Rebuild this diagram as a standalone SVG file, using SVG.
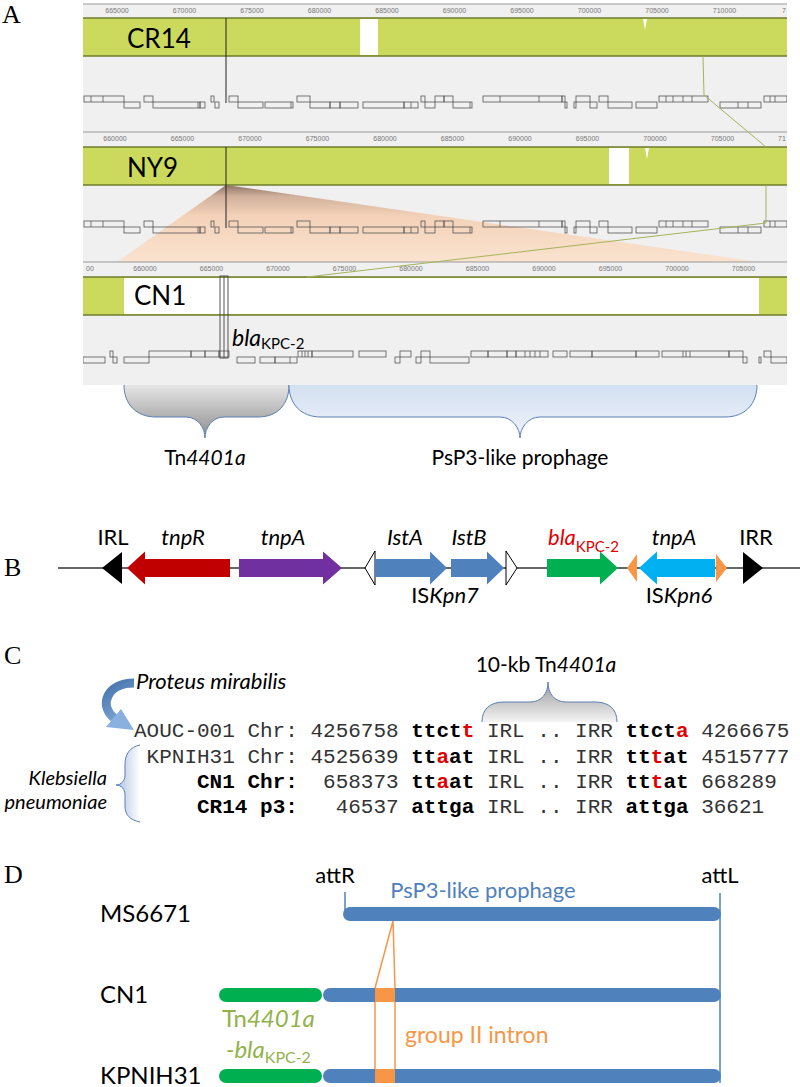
<svg xmlns="http://www.w3.org/2000/svg" xmlns:xlink="http://www.w3.org/1999/xlink" width="800" height="1087" viewBox="0 0 800 1087">
<style>
.sans{font-family:Lato,"Open Sans","Liberation Sans",sans-serif}
.panel{font-family:"Liberation Serif",serif;font-size:26px;fill:#000}
.mono{font-family:"Liberation Mono",monospace;font-size:21px;fill:#333}
.b{font-weight:bold;fill:#000}
.r{fill:#e00000}
.ruler{font-family:"Liberation Sans",sans-serif;font-size:7px;fill:#777;text-anchor:middle}
.gene rect{fill:none;stroke:#555;stroke-width:0.8}
.gene line{stroke:#555;stroke-width:0.8}
.band{fill:#cbda5c}
.bandline{stroke:#6f7d2c;stroke-width:1.5}
.olive{fill:none;stroke:#a4b45a;stroke-width:1}
.ax{stroke:#333;stroke-width:1.3}
</style>
<defs>
<clipPath id="clipA"><rect x="83" y="0" width="704" height="390"/></clipPath>
<linearGradient id="fanG" x1="0" y1="0" x2="0" y2="1">
<stop offset="0" stop-color="#86675a"/>
<stop offset="0.15" stop-color="#cfac96"/>
<stop offset="0.4" stop-color="#f4cfb3"/>
<stop offset="1" stop-color="#fbe2cd"/>
</linearGradient>
<linearGradient id="grayBrace" x1="0" y1="0" x2="0" y2="1">
<stop offset="0" stop-color="#e6e6e6"/>
<stop offset="1" stop-color="#8c8c8c"/>
</linearGradient>
<linearGradient id="blueBrace" x1="0" y1="0" x2="0" y2="1">
<stop offset="0" stop-color="#d3e0f1"/>
<stop offset="1" stop-color="#eef3fa"/>
</linearGradient>
<linearGradient id="grayBraceC" x1="0" y1="0" x2="0" y2="1">
<stop offset="0" stop-color="#9a9a9a"/>
<stop offset="1" stop-color="#f4f4f4"/>
</linearGradient>
<linearGradient id="blueBraceK" x1="0" y1="0" x2="1" y2="0">
<stop offset="0" stop-color="#a9c2e2"/>
<stop offset="1" stop-color="#ffffff"/>
</linearGradient>
<linearGradient id="curveG" gradientUnits="userSpaceOnUse" x1="100" y1="680" x2="130" y2="730">
<stop offset="0" stop-color="#3d6da5"/>
<stop offset="1" stop-color="#8fb4e3"/>
</linearGradient>
<g id="genesA" class="gene">
<rect x="84" y="96" width="40" height="6"/><line x1="91" y1="96" x2="91" y2="102"/><line x1="103" y1="96" x2="103" y2="102"/>
<rect x="124" y="102" width="16" height="6"/>
<rect x="144" y="96" width="9" height="6"/>
<rect x="153" y="102" width="47" height="6"/><line x1="198" y1="102" x2="198" y2="108"/>
<rect x="200" y="102" width="5" height="6"/>
<rect x="211" y="96" width="3" height="6"/>
<rect x="215" y="102" width="4" height="6"/>
<rect x="229" y="96" width="9" height="6"/>
<rect x="238" y="102" width="25" height="6"/>
<rect x="265" y="102" width="28" height="6"/><line x1="291" y1="102" x2="291" y2="108"/>
<rect x="297" y="96" width="13" height="6"/>
<rect x="310" y="102" width="20" height="6"/>
<rect x="330" y="102" width="10" height="6"/>
<rect x="340" y="102" width="18" height="6"/>
<rect x="363" y="102" width="41" height="6"/>
<rect x="404" y="102" width="14" height="6"/><line x1="411" y1="102" x2="411" y2="108"/>
<rect x="421" y="96" width="4" height="6"/>
<rect x="425" y="102" width="10" height="6"/>
<rect x="435" y="96" width="9" height="6"/>
<rect x="444" y="96" width="9" height="6"/>
<rect x="453" y="102" width="19" height="6"/><line x1="470" y1="102" x2="470" y2="108"/>
<rect x="483" y="96" width="79" height="6"/><line x1="500" y1="96" x2="500" y2="102"/><line x1="539" y1="96" x2="539" y2="102"/>
<rect x="562" y="96" width="3" height="6"/>
<rect x="565" y="102" width="2" height="6"/>
<rect x="574" y="102" width="2" height="6"/>
<rect x="576" y="96" width="14" height="6"/>
<rect x="590" y="102" width="7" height="6"/>
<rect x="599" y="96" width="9" height="6"/>
<rect x="608" y="102" width="24" height="6"/>
<rect x="636" y="102" width="21" height="6"/>
<rect x="659" y="96" width="49" height="6"/><line x1="666" y1="96" x2="666" y2="102"/><line x1="673" y1="96" x2="673" y2="102"/><line x1="683" y1="96" x2="683" y2="102"/><line x1="692" y1="96" x2="692" y2="102"/>
<rect x="720" y="102" width="41" height="6"/><line x1="738" y1="102" x2="738" y2="108"/><line x1="748" y1="102" x2="748" y2="108"/>
<rect x="764" y="96" width="23" height="6"/><line x1="770" y1="96" x2="770" y2="102"/><line x1="775" y1="96" x2="775" y2="102"/>
</g>
</defs>

<g id="panelA">
<text class="panel" x="2" y="23">A</text>
<g clip-path="url(#clipA)">
<rect x="83" y="4" width="704" height="381" fill="#f0f0f0"/>
<g id="track-CR14">
<line x1="83" y1="4" x2="787" y2="4" stroke="#999" stroke-width="1"/>
<g class="ruler">
<text x="117" y="13">665000</text><text x="184.5" y="13">670000</text><text x="252" y="13">675000</text><text x="319.5" y="13">680000</text><text x="387" y="13">685000</text><text x="454.5" y="13">690000</text><text x="522" y="13">695000</text><text x="589.5" y="13">700000</text><text x="657" y="13">705000</text><text x="724.5" y="13">710000</text><text x="784" y="13">7</text>
</g>
<rect class="band" x="83" y="18" width="704" height="38"/>
<line class="bandline" x1="83" y1="18" x2="787" y2="18"/>
<line class="bandline" x1="83" y1="56" x2="787" y2="56"/>
<rect x="360" y="19" width="18" height="36" fill="#fff"/>
<polygon points="643,19 647,19 645,30" fill="#fff"/>
<text class="sans" x="127" y="48" font-size="26">CR14</text>
<line x1="226" y1="18" x2="226" y2="103" stroke="#222" stroke-width="1"/>
<use xlink:href="#genesA"/>
</g>
<g id="track-NY9">
<line x1="83" y1="132" x2="787" y2="132" stroke="#999" stroke-width="1"/>
<g class="ruler">
<text x="115" y="141">660000</text><text x="182.5" y="141">665000</text><text x="250" y="141">670000</text><text x="317.5" y="141">675000</text><text x="385" y="141">680000</text><text x="452.5" y="141">685000</text><text x="520" y="141">690000</text><text x="587.5" y="141">695000</text><text x="655" y="141">700000</text><text x="722.5" y="141">705000</text><text x="782" y="141">71</text>
</g>
<rect class="band" x="83" y="147" width="704" height="38"/>
<line class="bandline" x1="83" y1="147" x2="787" y2="147"/>
<line class="bandline" x1="83" y1="185" x2="787" y2="185"/>
<rect x="609" y="148" width="20" height="36" fill="#fff"/>
<polygon points="645,148 649,148 647,159" fill="#fff"/>
<text class="sans" x="127" y="177" font-size="26">NY9</text>
</g>
<polygon id="fan" points="226,185 759,262 117,262" fill="url(#fanG)" opacity="0.92"/>
<line x1="226" y1="147" x2="226" y2="228" stroke="#222" stroke-width="1"/>
<use xlink:href="#genesA" y="125"/>
<g id="track-CN1">
<line x1="83" y1="262" x2="787" y2="262" stroke="#999" stroke-width="1"/>
<g class="ruler">
<text x="90" y="271">00</text><text x="145" y="271">660000</text><text x="211.5" y="271">665000</text><text x="278" y="271">670000</text><text x="344.5" y="271">675000</text><text x="411" y="271">680000</text><text x="477.5" y="271">685000</text><text x="544" y="271">690000</text><text x="610.5" y="271">695000</text><text x="677" y="271">700000</text><text x="743.5" y="271">705000</text>
</g>
<rect class="band" x="83" y="277" width="704" height="38"/>
<rect x="124" y="278" width="635" height="36" fill="#fff"/>
<line class="bandline" x1="83" y1="277" x2="787" y2="277"/>
<line class="bandline" x1="83" y1="315" x2="787" y2="315"/>
<text class="sans" x="134" y="305" font-size="26">CN1</text>
<g class="gene">
<rect x="83" y="357" width="22" height="6"/>
<rect x="110" y="351" width="3" height="6"/><rect x="113" y="357" width="4" height="6"/>
<rect x="124" y="357" width="25" height="6"/>
<rect x="149" y="351" width="42" height="6"/>
<rect x="191" y="351" width="14" height="6"/>
<rect x="205" y="351" width="14" height="6"/>
<rect x="219" y="351" width="10" height="6"/>
<rect x="237" y="357" width="18" height="6"/>
<rect x="260" y="357" width="15" height="6"/>
<rect x="275" y="357" width="22" height="6"/><line x1="290" y1="357" x2="290" y2="363"/>
<rect x="298" y="351" width="14" height="6"/><line x1="302" y1="351" x2="302" y2="357"/><line x1="305" y1="351" x2="305" y2="357"/><line x1="308" y1="351" x2="308" y2="357"/>
<rect x="312" y="351" width="41" height="6"/>
<rect x="359" y="351" width="27" height="6"/>
<rect x="395" y="357" width="5" height="6"/>
<rect x="400" y="351" width="11" height="6"/>
<rect x="416" y="357" width="5" height="6"/>
<rect x="421" y="351" width="9" height="6"/>
<rect x="430" y="357" width="39" height="6"/>
<rect x="471" y="351" width="17" height="6"/>
<rect x="488" y="351" width="19" height="6"/>
<rect x="507" y="351" width="9" height="6"/>
<rect x="516" y="351" width="32" height="6"/><line x1="525" y1="351" x2="525" y2="357"/><line x1="530" y1="351" x2="530" y2="357"/><line x1="535" y1="351" x2="535" y2="357"/><line x1="540" y1="351" x2="540" y2="357"/>
<rect x="553" y="351" width="14" height="6"/>
<rect x="570" y="351" width="22" height="6"/>
<rect x="592" y="351" width="44" height="6"/>
<rect x="636" y="351" width="23" height="6"/>
<rect x="662" y="351" width="67" height="6"/><line x1="683" y1="351" x2="683" y2="357"/><line x1="686" y1="351" x2="686" y2="357"/><line x1="690" y1="351" x2="690" y2="357"/>
<rect x="729" y="351" width="14" height="6"/>
<rect x="743" y="357" width="4" height="6"/>
<rect x="759" y="357" width="2" height="6"/>
<rect x="764" y="351" width="7" height="6"/>
<rect x="771" y="357" width="16" height="6"/>
</g>
<g id="blaKPC2-marker">
<rect x="220" y="276" width="8" height="82" fill="none" stroke="#444" stroke-width="0.9"/>
<line x1="224" y1="276" x2="224" y2="358" stroke="#444" stroke-width="0.9"/>
</g>
<text class="sans" x="232" y="346" font-size="23" font-style="italic">bla<tspan font-size="15" font-style="normal" dy="3">KPC-2</tspan></text>
</g>
<g id="connectorsA">
<polyline class="olive" points="703,56 704,95 766,147"/>
<polyline class="olive" points="766,185 766,223 307,277"/>
</g>
</g>
<g id="brace-Tn4401a">
<path d="M124,385 C124,404 136,417 156,417 L186,417 C198,417 205,428 205,438 C205,428 212,417 224,417 L258,417 C278,417 289,404 289,385" fill="url(#grayBrace)" stroke="#5b7fb5" stroke-width="1"/>
<text class="sans" x="205" y="465" font-size="21" text-anchor="middle">Tn<tspan font-style="italic">4401a</tspan></text>
</g>
<g id="brace-prophage">
<path d="M289,385 C289,404 301,417 321,417 L500,417 C512,417 520,428 520,438 C520,428 528,417 540,417 L725,417 C745,417 757,404 757,385" fill="url(#blueBrace)" stroke="#5b7fb5" stroke-width="1"/>
<text class="sans" x="520" y="465" font-size="21" text-anchor="middle">PsP3-like prophage</text>
</g>
</g>

<g id="panelB">
<text class="panel" x="4" y="576">B</text>
<g id="connectorsB"><line class="ax" x1="58" y1="568" x2="800" y2="568"/></g>
<g id="IRL"><polygon points="102,568 122,552 122,584" fill="#000"/><text class="sans" x="113" y="545" font-size="22" text-anchor="middle">IRL</text></g>
<g id="tnpR"><polygon points="127,568 145,551.5 145,559 230,559 230,577 145,577 145,584.5" fill="#c00000"/><text class="sans" x="183" y="545" font-size="22" font-style="italic" text-anchor="middle">tnpR</text></g>
<g id="tnpA1"><polygon points="239,559 323,559 323,551.5 342,568 323,584.5 323,577 239,577" fill="#7030a0"/><text class="sans" x="283" y="545" font-size="22" font-style="italic" text-anchor="middle">tnpA</text></g>
<g id="IRL7"><polygon points="365,568 375,551 375,585" fill="#fff" stroke="#000" stroke-width="1"/></g>
<g id="IstA"><polygon points="375,559 430,559 430,551.5 447,568 430,584.5 430,577 375,577" fill="#4f81bd"/><text class="sans" x="405" y="545" font-size="22" font-style="italic" text-anchor="middle">IstA</text></g>
<g id="IstB"><polygon points="451,559 487,559 487,551.5 504,568 487,584.5 487,577 451,577" fill="#4f81bd"/><text class="sans" x="469" y="545" font-size="22" font-style="italic" text-anchor="middle">IstB</text></g>
<g id="IRR7"><polygon points="517,568 506,551 506,585" fill="#fff" stroke="#000" stroke-width="1"/></g>
<text class="sans" x="445" y="603" font-size="22" text-anchor="middle">IS<tspan font-style="italic">Kpn7</tspan></text>
<g id="blaKPC2"><polygon points="547,559 600,559 600,551.5 618,568 600,584.5 600,577 547,577" fill="#00b050"/><text class="sans" x="548" y="545" font-size="22" font-style="italic" fill="#e00000">bla<tspan font-size="15" font-style="normal" dy="7">KPC-2</tspan></text></g>
<g id="IRL6"><polygon points="627,568 637,554 637,582" fill="#f79646"/></g>
<g id="tnpA2"><polygon points="639,568 657,551.5 657,559 715,559 715,577 657,577 657,584.5" fill="#00b0f0"/><text class="sans" x="674" y="545" font-size="22" font-style="italic" text-anchor="middle">tnpA</text></g>
<g id="IRR6"><polygon points="727,568 716,554 716,582" fill="#f79646"/></g>
<text class="sans" x="679" y="603" font-size="22" text-anchor="middle">IS<tspan font-style="italic">Kpn6</tspan></text>
<g id="IRR"><polygon points="763,568 743,552 743,584" fill="#000"/><text class="sans" x="756" y="545" font-size="22" text-anchor="middle">IRR</text></g>
</g>

<g id="panelC">
<text class="panel" x="4" y="664">C</text>
<g id="tn-label">
<text class="sans" x="546" y="672" font-size="21" text-anchor="middle">10-kb Tn<tspan font-style="italic">4401a</tspan></text>
<path d="M482,722 C482,709 490,702 504,702 L530,702 C542,702 548,693 548,682 C548,693 554,702 566,702 L595,702 C609,702 617,709 617,722" fill="url(#grayBraceC)" stroke="#5b7fb5" stroke-width="1"/>
</g>
<g id="proteus">
<text class="sans" x="136" y="689" font-size="22" font-style="italic">Proteus mirabilis</text>
<path d="M134,683 C108,683 98,704 114,718" fill="none" stroke="url(#curveG)" stroke-width="9"/>
<polygon points="106,727 121,709 134,730" fill="#8ab0df"/>
</g>
<g id="klebsiella">
<text class="sans" x="107" y="785" font-size="20" font-style="italic" text-anchor="end">Klebsiella</text>
<text class="sans" x="107" y="809" font-size="20" font-style="italic" text-anchor="end">pneumoniae</text>
<path d="M140,745 C130,747 125,754 125,764 L125,775 C125,781 121,785 116,785 C121,785 125,789 125,795 L125,806 C125,815 130,820 140,822" fill="url(#blueBraceK)" stroke="#5b7fb5" stroke-width="1"/>
</g>
<g id="rows" class="mono">
<text x="134" y="737" xml:space="preserve" style="white-space:pre">AOUC-001 Chr: 4256758 <tspan class="b">ttct</tspan><tspan class="b r">t</tspan> IRL .. IRR <tspan class="b">ttct</tspan><tspan class="b r">a</tspan> 4266675</text>
<text x="134" y="763" xml:space="preserve" style="white-space:pre"> KPNIH31 Chr: 4525639 <tspan class="b">tt</tspan><tspan class="b r">a</tspan><tspan class="b">at</tspan> IRL .. IRR <tspan class="b">tt</tspan><tspan class="b r">t</tspan><tspan class="b">at</tspan> 4515777</text>
<text x="134" y="788" xml:space="preserve" style="white-space:pre">     <tspan class="b">CN1 Chr:</tspan>  658373 <tspan class="b">tt</tspan><tspan class="b r">a</tspan><tspan class="b">at</tspan> IRL .. IRR <tspan class="b">tt</tspan><tspan class="b r">t</tspan><tspan class="b">at</tspan> 668289</text>
<text x="134" y="813" xml:space="preserve" style="white-space:pre">     <tspan class="b">CR14 p3:</tspan>   46537 <tspan class="b">attga</tspan> IRL .. IRR <tspan class="b">attga</tspan> 36621</text>
</g>
</g>

<g id="panelD">
<text class="panel" x="4" y="883">D</text>
<g id="connectorsD" fill="none" stroke-width="1.5">
<line x1="345" y1="892" x2="345" y2="914" stroke="#4f81bd"/>
<line x1="720" y1="893" x2="720" y2="1083" stroke="#4f81bd"/>
<polyline points="375,988 393,921 395,988" stroke="#f79646"/>
<line x1="375" y1="1002" x2="375" y2="1069" stroke="#f79646"/>
<line x1="395" y1="1002" x2="395" y2="1069" stroke="#f79646"/>
</g>
<text class="sans" x="335" y="883" font-size="22" text-anchor="middle">attR</text>
<text class="sans" x="720" y="883" font-size="22" text-anchor="middle">attL</text>
<text class="sans" x="483" y="898" font-size="22" text-anchor="middle" fill="#4f81bd">PsP3-like prophage</text>
<g id="MS6671">
<text class="sans" x="100" y="922" font-size="24">MS6671</text>
<rect x="343" y="907" width="378" height="14" rx="7" fill="#4f81bd"/>
</g>
<g id="CN1">
<text class="sans" x="100" y="1003" font-size="24">CN1</text>
<rect x="219" y="988" width="103" height="14" rx="7" fill="#00b050"/>
<rect x="323" y="988" width="398" height="14" rx="7" fill="#4f81bd"/>
<rect x="375" y="988" width="20" height="14" fill="#f79646"/>
</g>
<g id="KPNIH31">
<text class="sans" x="100" y="1084" font-size="24">KPNIH31</text>
<rect x="219" y="1069" width="103" height="14" rx="7" fill="#00b050"/>
<rect x="323" y="1069" width="398" height="14" rx="7" fill="#4f81bd"/>
<rect x="375" y="1069" width="20" height="14" fill="#f79646"/>
</g>
<text class="sans" x="222" y="1027" font-size="24" fill="#92b24a">Tn<tspan font-style="italic">4401a</tspan></text>
<text class="sans" x="226" y="1058" font-size="24" fill="#92b24a" font-style="italic">-bla<tspan font-size="16" font-style="normal" dy="5">KPC-2</tspan></text>
<text class="sans" x="405" y="1043" font-size="23" fill="#f79646">group II intron</text>
</g>
</svg>
